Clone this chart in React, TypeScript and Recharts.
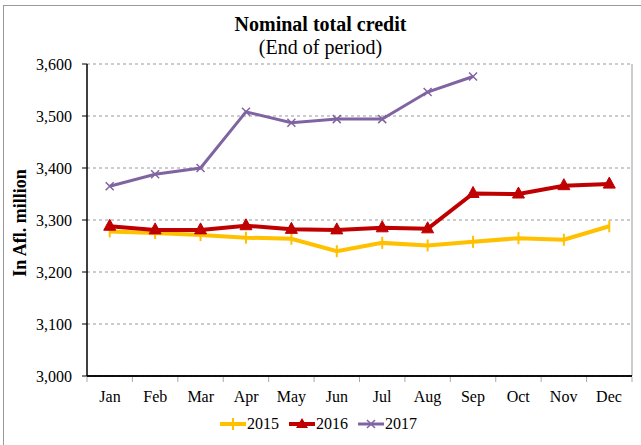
import React from "react";
import { LineChart, Line, XAxis, YAxis, CartesianGrid, Legend, ReferenceLine } from "recharts";

const months = ["Jan", "Feb", "Mar", "Apr", "May", "Jun", "Jul", "Aug", "Sep", "Oct", "Nov", "Dec"];
const s2015 = [3278, 3275, 3271, 3266, 3264, 3240, 3256, 3251, 3258, 3265, 3262, 3288];
const s2016 = [3288, 3281, 3281, 3289, 3282, 3281, 3285, 3283, 3351, 3350, 3366, 3369];
const s2017: (number | null)[] = [3365, 3388, 3400, 3508, 3487, 3494, 3494, 3546, 3576, null, null, null];
const yTicks = [3000, 3100, 3200, 3300, 3400, 3500, 3600];
const boundaryTicks = [0, 1, 2, 3, 4, 5, 6, 7, 8, 9, 10, 11, 12];

const data = months.map((m, i) => ({
  month: m,
  idx: i + 0.5,
  y2015: s2015[i],
  y2016: s2016[i],
  y2017: s2017[i],
}));

const C2015 = "#FFC000";
const C2016 = "#C00000";
const C2017 = "#8064A2";
const FONT = "'Liberation Serif', 'Times New Roman', serif";

const BarDot = (p: any) => {
  if (p.cy == null || p.value == null) return <g key={p.key} />;
  return <line key={p.key} x1={p.cx} x2={p.cx} y1={p.cy - 6} y2={p.cy + 6} stroke={C2015} strokeWidth={2} />;
};
const TriDot = (p: any) => {
  if (p.cy == null || p.value == null) return <g key={p.key} />;
  const { cx, cy } = p;
  return <path key={p.key} d={`M${cx},${cy - 7} L${cx + 6},${cy + 4} L${cx - 6},${cy + 4} Z`} fill={C2016} stroke={C2016} strokeWidth={1} />;
};
const XDot = (p: any) => {
  if (p.cy == null || p.value == null) return <g key={p.key} />;
  const { cx, cy } = p;
  const r = 4;
  return (
    <path key={p.key} d={`M${cx - r},${cy - r} L${cx + r},${cy + r} M${cx - r},${cy + r} L${cx + r},${cy - r}`} stroke={C2017} strokeWidth={1.5} fill="none" />
  );
};
const EmptyTick = () => <g />;

const legendItems = [
  { name: "2015", color: C2015, kind: "bar", w: 4 },
  { name: "2016", color: C2016, kind: "tri", w: 4 },
  { name: "2017", color: C2017, kind: "x", w: 3 },
];

const LegendContent = () => (
  <div style={{ display: "flex", justifyContent: "center", alignItems: "center", height: 20, fontFamily: FONT, fontSize: 16, color: "#000", paddingLeft: 6 }}>
    {legendItems.map((it) => (
      <div key={it.name} style={{ display: "flex", alignItems: "center", marginRight: 10 }}>
        <svg width={26} height={16} style={{ display: "block" }}>
          <line x1={0} x2={26} y1={8} y2={8} stroke={it.color} strokeWidth={it.w} />
          {it.kind === "bar" && <line x1={13} x2={13} y1={2} y2={14} stroke={it.color} strokeWidth={2} />}
          {it.kind === "tri" && <path d="M13,2 L19,12 L7,12 Z" fill={it.color} />}
          {it.kind === "x" && <path d="M9,4 L17,12 M9,12 L17,4" stroke={it.color} strokeWidth={1.5} />}
        </svg>
        <span style={{ marginLeft: 1 }}>{it.name}</span>
      </div>
    ))}
  </div>
);

export default function App() {
  return (
    <div style={{ position: "absolute", left: 0, top: 0, width: 641, height: 445, background: "#fff", overflow: "hidden" }}>
      <div style={{ position: "absolute", left: 3, top: 5, width: 700, height: 500, borderTop: "1px solid #999", borderLeft: "1px solid #999" }} />
      <div style={{ position: "absolute", left: 0, top: 12, width: 641, textAlign: "center", fontFamily: FONT, fontSize: 20, fontWeight: "bold", lineHeight: "24px" }}>
        Nominal total credit
      </div>
      <div style={{ position: "absolute", left: 0, top: 35, width: 641, textAlign: "center", fontFamily: FONT, fontSize: 20, lineHeight: "24px" }}>
        (End of period)
      </div>
      <div
        style={{
          position: "absolute",
          left: 20,
          top: 223,
          transform: "translate(-50%, -50%) rotate(-90deg)",
          whiteSpace: "nowrap",
          fontFamily: FONT,
          fontSize: 18,
          fontWeight: "bold",
        }}
      >
        In Afl. million
      </div>
      <div style={{ position: "absolute", left: 0, top: 0 }}>
        <LineChart width={641} height={445} data={data} margin={{ top: 64, right: 9, left: 30, bottom: 47 }} style={{ fontFamily: FONT }}>
          <CartesianGrid vertical={false} stroke="#999" strokeDasharray="3 3" />
          <XAxis
            dataKey="month"
            height={1}
            tickLine={false}
            tickSize={0}
            tickMargin={15}
            padding={{ left: 23, right: 23 }}
            axisLine={{ stroke: "#000", strokeWidth: 1.5 }}
            tick={{ fill: "#000", fontSize: 16, fontFamily: FONT }}
            interval={0}
          />
          <XAxis
            xAxisId="b"
            type="number"
            dataKey="idx"
            domain={[0, 12]}
            ticks={boundaryTicks}
            height={1}
            tick={EmptyTick}
            tickSize={5}
            tickLine={{ stroke: "#aaa" }}
            axisLine={false}
            interval={0}
            allowDataOverflow
          />
          <YAxis
            width={57}
            domain={[3000, 3600]}
            ticks={yTicks}
            tickSize={5}
            tickMargin={10}
            tickLine={{ stroke: "#000" }}
            axisLine={{ stroke: "#000", strokeWidth: 1.5 }}
            tick={{ fill: "#000", fontSize: 16, fontFamily: FONT }}
            tickFormatter={(v: number) => v.toLocaleString("en-US")}
          />
          <ReferenceLine xAxisId="b" x={12} stroke="#bbb" strokeWidth={1.5} />
          <ReferenceLine xAxisId="b" y={3000} stroke="#000" strokeWidth={1.5} />
          <Line xAxisId="b" type="linear" dataKey="y2015" stroke={C2015} strokeWidth={4} dot={BarDot} activeDot={false} isAnimationActive={false} />
          <Line xAxisId="b" type="linear" dataKey="y2016" stroke={C2016} strokeWidth={4} dot={TriDot} activeDot={false} isAnimationActive={false} />
          <Line xAxisId="b" type="linear" dataKey="y2017" stroke={C2017} strokeWidth={3} dot={XDot} activeDot={false} isAnimationActive={false} connectNulls={false} />
          <Legend verticalAlign="bottom" content={LegendContent} wrapperStyle={{ top: 414, bottom: "auto", left: 0, width: 641 }} />
        </LineChart>
      </div>
    </div>
  );
}
